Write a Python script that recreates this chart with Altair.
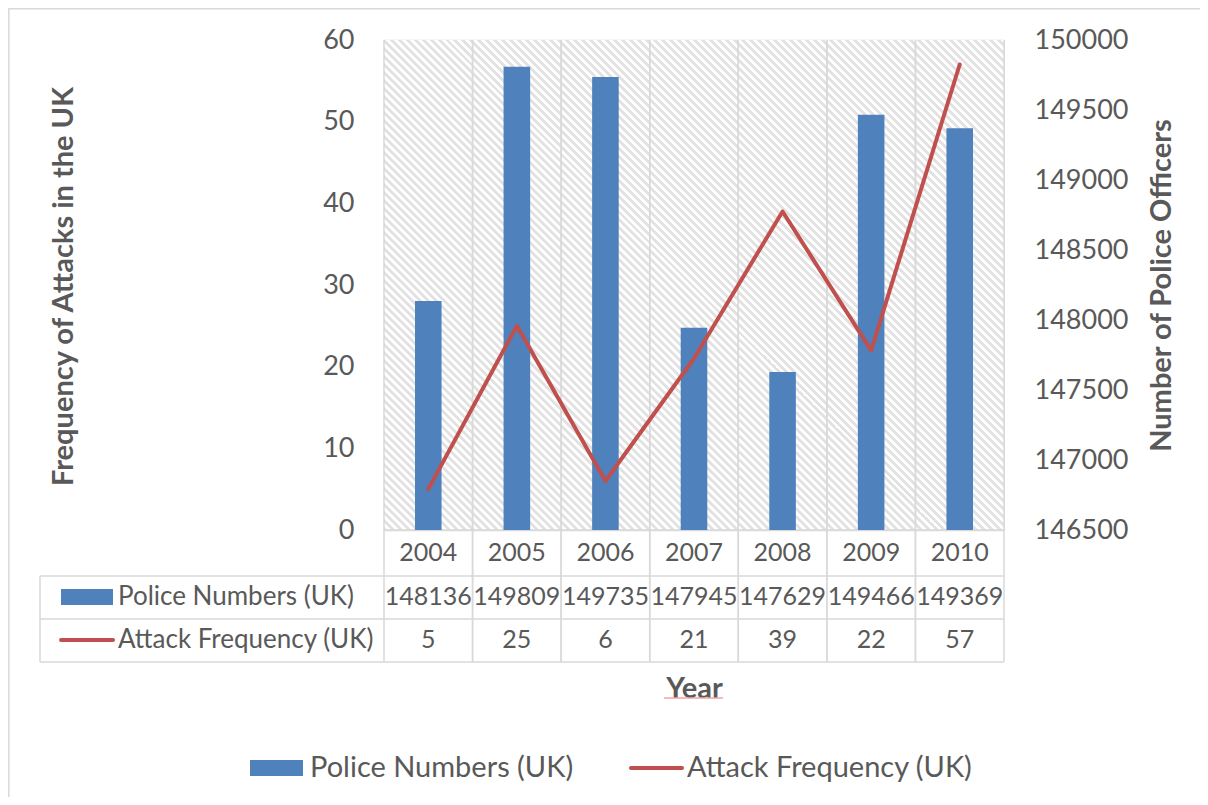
import altair as alt
import pandas as pd

years = ["2004", "2005", "2006", "2007", "2008", "2009", "2010"]
police = [148136, 149809, 149735, 147945, 147629, 149466, 149369]
attacks = [5, 25, 6, 21, 39, 22, 57]
series = ["Police Numbers (UK)", "Attack Frequency (UK)"]
left_title = "Frequency of Attacks in the UK"
right_title = "Number of Police Officers"
x_title = "Year"

df = pd.DataFrame({"Year": years, "Police": police, "Attacks": attacks})

W, H = 620, 490
GREY = "#595959"
LINE = "#d9d9d9"
BLUE = "#4f81bd"
RED = "#c0504d"
FONT = "Lato"
TFS = 29   # titles
AFS = 27   # axis labels
NFS = 25   # table numbers
LFS = 26   # table row labels
GFS = 29   # legend

# diagonal (45 degree) hatch via gradient stops
r = H / W
k = (1 + r) / (1 + r * r)
stops = []
N = 139
for i in range(N):
    a = i / N
    b = (i + 0.5) / N
    c = (i + 1) / N
    stops += [
        {"offset": a, "color": "#e2e2e2"},
        {"offset": b, "color": "#e2e2e2"},
        {"offset": b, "color": "#ffffff"},
        {"offset": c, "color": "#ffffff"},
    ]
hatch = alt.LinearGradient(gradient="linear", x1=0, y1=1, x2=k, y2=1 - r * k,
                           stops=[alt.GradientStop(**s) for s in stops])

xaxis = alt.Axis(title=x_title, labels=False, ticks=False, domain=False, grid=False,
                 titleY=158, titleBaseline="middle", titleFontSize=TFS,
                 titleFontWeight="bold", titleColor=GREY, titleFont=FONT)
xscale = alt.Scale(paddingInner=0, paddingOuter=0)


def X(**kw):
    return alt.X("Year:N", sort=years, scale=xscale, axis=xaxis, **kw)


base = alt.Chart(df)
one = pd.DataFrame({"s": series})

bg = alt.Chart(one.iloc[[0]]).mark_rect(fill=hatch).encode(
    x=alt.value(0), x2=alt.value(W), y=alt.value(0), y2=alt.value(H))

bars = base.mark_bar(color=BLUE, width={"band": 0.3}).encode(
    x=X(),
    y=alt.Y("Police:Q",
            scale=alt.Scale(domain=[146500, 150000], zero=False, nice=False),
            axis=alt.Axis(orient="right", values=list(range(146500, 150001, 500)), format="d",
                          grid=False, domain=False, ticks=False, labelPadding=30,
                          labelFontSize=AFS, labelColor=GREY, labelFont=FONT,
                          title=right_title, titleX=157, titleY=245, titleAngle=270,
                          titleBaseline="middle", titleAlign="center",
                          titleFontSize=TFS, titleFontWeight="bold", titleColor=GREY,
                          titleFont=FONT)),
    y2=alt.datum(146500),
)

line = base.mark_line(color=RED, strokeWidth=4, strokeCap="round", strokeJoin="round").encode(
    x=X(),
    y=alt.Y("Attacks:Q",
            scale=alt.Scale(domain=[0, 60], nice=False),
            axis=alt.Axis(orient="left", values=list(range(0, 61, 10)), grid=True,
                          gridColor=LINE, gridWidth=1.5, domain=False, ticks=False,
                          labelPadding=30, labelFontSize=AFS, labelColor=GREY, labelFont=FONT,
                          title=left_title, titleX=-321, titleY=246, titleAngle=270,
                          titleBaseline="middle", titleAlign="center",
                          titleFontSize=TFS, titleFontWeight="bold", titleColor=GREY,
                          titleFont=FONT)),
)

vrules_l = base.mark_rule(color=LINE, strokeWidth=1.5).encode(
    x=X(bandPosition=0), y=alt.value(0), y2=alt.value(622))
vrules_r = base.mark_rule(color=LINE, strokeWidth=1.5).encode(
    x=X(bandPosition=1), y=alt.value(0), y2=alt.value(622))

hrules = []
for yy in [490, 536, 579, 622]:
    x0 = 0 if yy == 490 else -344
    hrules.append(alt.Chart(one.iloc[[0]]).mark_rule(color=LINE, strokeWidth=1.5).encode(
        x=alt.value(x0), x2=alt.value(W), y=alt.value(yy)))
left_v = alt.Chart(one.iloc[[0]]).mark_rule(color=LINE, strokeWidth=1.5).encode(
    x=alt.value(-344), y=alt.value(536), y2=alt.value(622))

txt = dict(font=FONT, fontSize=NFS, color=GREY, baseline="middle", align="center")
year_row = base.mark_text(**txt).encode(x=X(), y=alt.value(513), text="Year:N")
police_row = base.mark_text(**txt).encode(x=X(), y=alt.value(557), text=alt.Text("Police:Q", format="d"))
attack_row = base.mark_text(**txt).encode(x=X(), y=alt.value(600), text=alt.Text("Attacks:Q", format="d"))

row_lab1 = alt.Chart(one.iloc[[0]]).mark_text(font=FONT, fontSize=LFS, color=GREY, baseline="middle",
                                              align="left").encode(
    x=alt.value(-266), y=alt.value(557), text="s:N")
row_lab2 = alt.Chart(one.iloc[[1]]).mark_text(font=FONT, fontSize=LFS, color=GREY, baseline="middle",
                                              align="left").encode(
    x=alt.value(-266), y=alt.value(600), text="s:N")
row_key1 = alt.Chart(one.iloc[[0]]).mark_rect(color=BLUE).encode(
    x=alt.value(-323), x2=alt.value(-271), y=alt.value(549), y2=alt.value(565))
row_key2 = alt.Chart(one.iloc[[1]]).mark_rule(color=RED, strokeWidth=4, strokeCap="round").encode(
    x=alt.value(-323), x2=alt.value(-271), y=alt.value(600))

leg_key1 = alt.Chart(one.iloc[[0]]).mark_rect(color=BLUE).encode(
    x=alt.value(-134), x2=alt.value(-81), y=alt.value(720), y2=alt.value(736))
leg_lab1 = alt.Chart(one.iloc[[0]]).mark_text(font=FONT, fontSize=GFS, color=GREY, baseline="middle",
                                              align="left").encode(
    x=alt.value(-74), y=alt.value(728), text="s:N")
leg_key2 = alt.Chart(one.iloc[[1]]).mark_rule(color=RED, strokeWidth=4, strokeCap="round").encode(
    x=alt.value(247), x2=alt.value(298), y=alt.value(728))
leg_lab2 = alt.Chart(one.iloc[[1]]).mark_text(font=FONT, fontSize=GFS, color=GREY, baseline="middle",
                                              align="left").encode(
    x=alt.value(303), y=alt.value(728), text="s:N")

underline = alt.Chart(one.iloc[[0]]).mark_rule(color="#f3a3a3", strokeWidth=1.5).encode(
    x=alt.value(280), x2=alt.value(339), y=alt.value(658))

border = alt.Chart(one.iloc[[0]]).mark_rect(filled=False, stroke=LINE, strokeWidth=1.5).encode(
    x=alt.value(-375.2), x2=alt.value(2000), y=alt.value(-31.2), y2=alt.value(2000))

chart = alt.layer(
    border, bg, vrules_l, vrules_r, *hrules, left_v,
    bars, line,
    year_row, police_row, attack_row,
    row_lab1, row_lab2, row_key1, row_key2,
    leg_key1, leg_lab1, leg_key2, leg_lab2, underline,
).resolve_scale(y="independent").properties(
    width=W, height=H,
    autosize=alt.AutoSizeParams(type="none"),
    padding={"left": 376, "top": 32, "right": 196, "bottom": 267},
).configure_view(
    stroke=LINE, strokeWidth=1.5
).configure(font=FONT, background="white")

chart.save("out.html", embed_options={"renderer": "svg", "actions": False})
